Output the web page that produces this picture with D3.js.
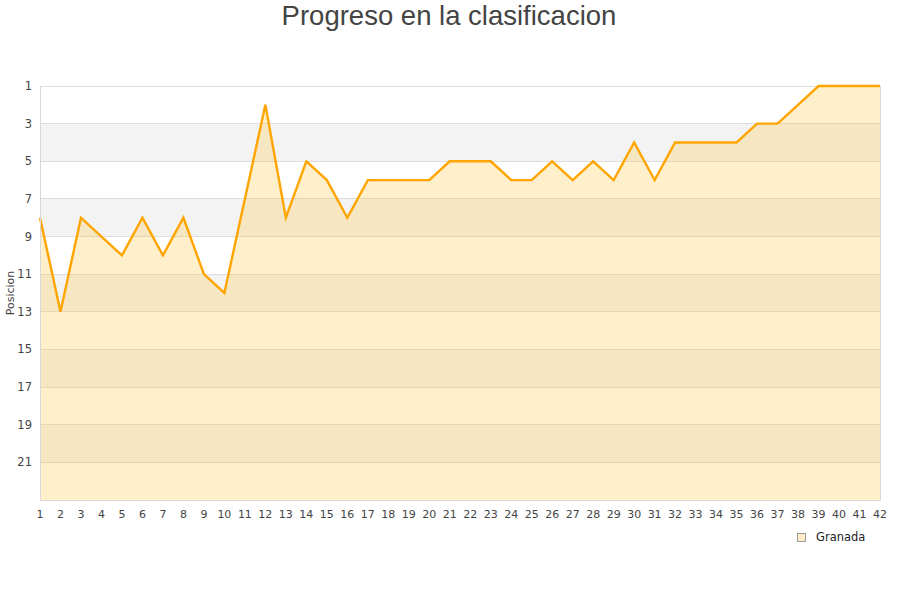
<!DOCTYPE html>
<html><head><meta charset="utf-8">
<script src="https://cdn.jsdelivr.net/npm/d3@7"></script>
<style>body{margin:0;background:#fff;} svg{display:block;}</style>
</head><body>
<svg id="c" width="900" height="600"></svg>
<script>
const rounds = d3.range(1, 43);
const positions = [8,13,8,9,10,8,10,8,11,12,7,2,8,5,6,8,6,6,6,6,5,5,5,6,6,5,6,5,6,4,6,4,4,4,4,3,3,2,1,1,1,1];
const yTicks = [1,3,5,7,9,11,13,15,17,19,21];
const seriesName = "Granada";
const titleText = "Progreso en la clasificacion";
const yTitle = "Posicion";

const svg = d3.select("#c");
const L = 40, R = 880, T = 86, B = 500;
const x = d3.scaleLinear().domain([1, 42]).range([L, R]);
const y = d3.scaleLinear().domain([1, 23]).range([T, B]);

// bands
const bands = d3.range(1, 23, 2);
svg.append("g").selectAll("rect").data(bands).join("rect")
  .attr("x", L).attr("width", R - L)
  .attr("y", d => y(d)).attr("height", d => y(d + 2) - y(d))
  .attr("fill", (d, i) => i % 2 ? "#f3f3f3" : "#ffffff");

// gridlines
svg.append("g").selectAll("line").data(yTicks).join("line")
  .attr("x1", L).attr("x2", R).attr("y1", d => y(d)).attr("y2", d => y(d))
  .attr("stroke", "#dddddd").attr("stroke-width", 1).attr("shape-rendering", "crispEdges");

const data = rounds.map((r, i) => ({r, p: positions[i]}));
svg.append("path").datum(data)
  .attr("d", d3.area().x(d => x(d.r)).y0(y(23)).y1(d => y(d.p)))
  .attr("fill", "rgba(255,196,70,0.28)");

svg.append("path").datum(data)
  .attr("d", d3.line().x(d => x(d.r)).y(d => y(d.p)))
  .attr("fill", "none").attr("stroke", "#ffa500").attr("stroke-width", 2.4)
  .attr("stroke-linejoin", "miter");

// plot border
svg.append("path")
  .attr("d", `M${L+0.5},${T}V${B+0.5}H${R+0.5}V${T}`)
  .attr("fill", "none").attr("stroke", "#d8d8d8").attr("stroke-width", 1);

// y labels
svg.append("g").selectAll("text").data(yTicks).join("text")
  .attr("x", 32).attr("y", d => y(d)).attr("dy", "0.35em")
  .attr("text-anchor", "end").attr("font-family", "DejaVu Sans, sans-serif")
  .attr("font-size", 11.5).attr("fill", "#444").text(d => d);

// x labels
svg.append("g").selectAll("text").data(rounds).join("text")
  .attr("x", d => x(d)).attr("y", 518)
  .attr("text-anchor", "middle").attr("font-family", "DejaVu Sans, sans-serif")
  .attr("font-size", 11).attr("fill", "#444").text(d => d);

// y title
svg.append("text").attr("transform", `translate(14,${(T+B)/2}) rotate(-90)`)
  .attr("text-anchor", "middle").attr("font-family", "DejaVu Sans, sans-serif")
  .attr("font-size", 11).attr("fill", "#444").text(yTitle);

// title
svg.append("text").attr("x", 449).attr("y", 25).attr("text-anchor", "middle")
  .attr("font-family", "Liberation Sans, Arial, sans-serif").attr("font-size", 27.5)
  .attr("fill", "#444").text(titleText);

// legend
svg.append("rect").attr("x", 797.5).attr("y", 533.5).attr("width", 8).attr("height", 8)
  .attr("fill", "#ffedc9").attr("stroke", "#999");
svg.append("text").attr("x", 816).attr("y", 541).attr("font-family", "DejaVu Sans, sans-serif")
  .attr("font-size", 11.5).attr("fill", "#222").text(seriesName);
</script>
</body></html>
